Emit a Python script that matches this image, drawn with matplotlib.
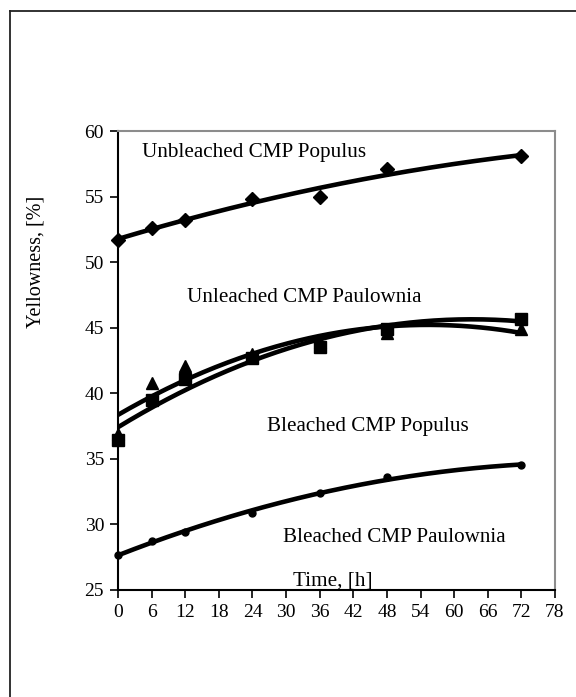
import numpy as np
import matplotlib
matplotlib.use("Agg")
import matplotlib.pyplot as plt
from matplotlib.lines import Line2D

plt.rcParams['font.family'] = ['Liberation Serif', 'DejaVu Serif']

time_h = [0, 6, 12, 24, 36, 48, 72]
unbleached_populus = [51.7, 52.6, 53.2, 54.8, 55.0, 57.1, 58.1]
unbleached_paulownia = [36.9, 40.8, 42.1, 43.0, 43.9, 44.6, 44.9]
bleached_populus = [36.4, 39.5, 41.1, 42.7, 43.5, 44.9, 45.7]
bleached_paulownia = [27.7, 28.7, 29.4, 30.9, 32.4, 33.6, 34.5]

x_ticks = list(range(0, 79, 6))
y_ticks = [25, 30, 35, 40, 45, 50, 55, 60]

fig = plt.figure(figsize=(5.76, 6.97), dpi=100)
# outer chart frame (left and top edges visible)
fig.add_artist(Line2D([10/576, 10/576], [0, 1 - 11/697], transform=fig.transFigure,
                      color='#222222', lw=1.3))
fig.add_artist(Line2D([10/576, 1], [1 - 11/697, 1 - 11/697], transform=fig.transFigure,
                      color='#222222', lw=1.3))

ax = fig.add_axes([118/576, 1 - 590/697, (555 - 118)/576, (590 - 131)/697])

series = [
    (unbleached_populus, 'D', 7.5),
    (unbleached_paulownia, '^', 9),
    (bleached_populus, 's', 8),
    (bleached_paulownia, 'o', 5),
]
t = np.array(time_h, dtype=float)
tt = np.linspace(0, 72, 200)
for vals, m, ms in series:
    coef = np.polyfit(t, np.array(vals), 2)
    ax.plot(tt, np.polyval(coef, tt), color='black', lw=3.3, zorder=2,
            solid_capstyle='round')
    ax.plot(t, vals, linestyle='none', marker=m, markersize=ms, color='black', zorder=3,
            clip_on=False)

ax.set_xlim(0, 78)
ax.set_ylim(25, 60)
ax.set_xticks(x_ticks)
ax.set_yticks(y_ticks)
ax.tick_params(direction='out', length=6, width=1.2, labelsize=14, pad=4)
for s in ['left', 'bottom']:
    ax.spines[s].set_color('black')
    ax.spines[s].set_linewidth(1.5)
for s in ['top', 'right']:
    ax.spines[s].set_color('#8c8c8c')
    ax.spines[s].set_linewidth(1.5)

ax.set_ylabel('Yellowness, [%]', fontsize=14.5)
ax.yaxis.set_label_coords(-0.165, 0.715)

def px(x, y):
    return ((x - 118) / (555 - 118), (590 - y) / (590 - 131))

txt = dict(transform=ax.transAxes, fontsize=15.2, va='center', ha='left')
ax.text(*px(142, 153), 'Unbleached CMP Populus', **txt)
ax.text(*px(187, 298), 'Unleached CMP Paulownia', **txt)
ax.text(*px(267, 427), 'Bleached CMP Populus', **txt)
ax.text(*px(283, 538), 'Bleached CMP Paulownia', **txt)
ax.text(*px(293, 581), 'Time, [h]', **txt)

fig.savefig('out.png', dpi=100)
